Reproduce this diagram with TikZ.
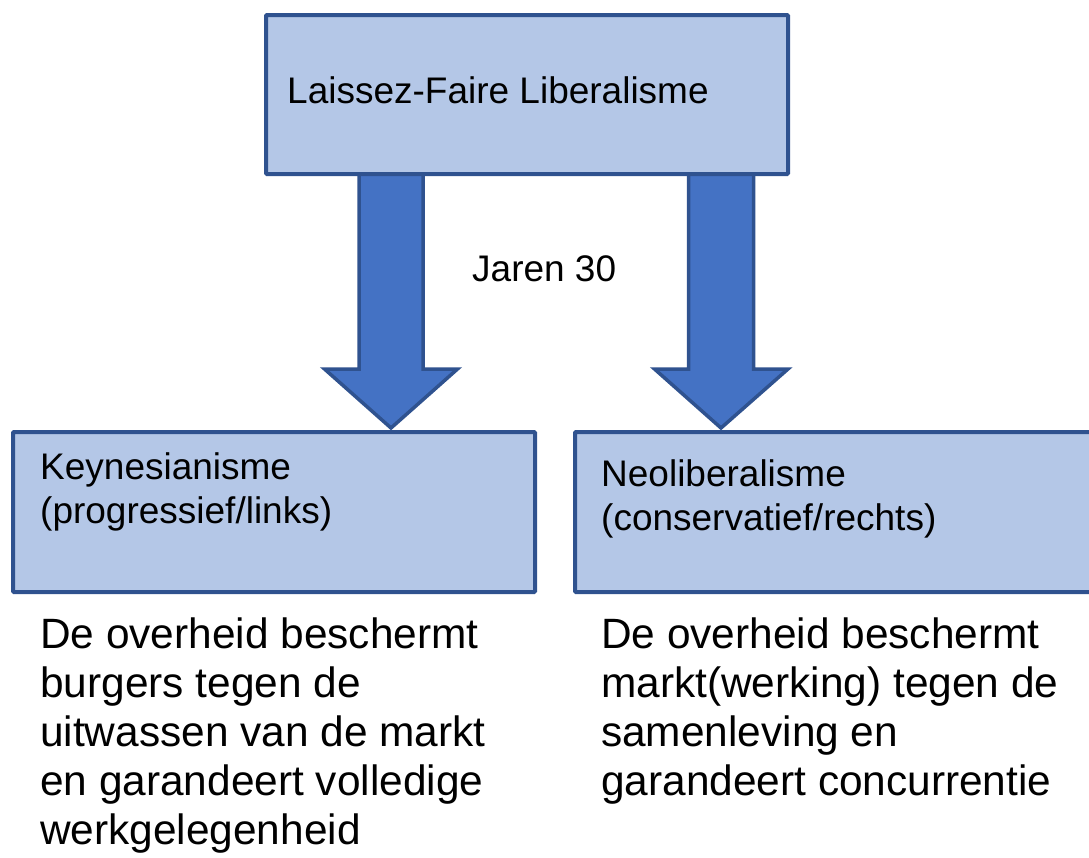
\documentclass[tikz,border=0pt]{standalone}
\usepackage{fontspec}
\setmainfont{Liberation Sans}
\usetikzlibrary{calc}
\definecolor{bord}{HTML}{2F528F}
\definecolor{boxfill}{HTML}{B4C7E7}
\definecolor{arrfill}{HTML}{4472C4}
\begin{document}
\begin{tikzpicture}[x=1pt,y=-1pt,
  box/.style={draw=bord,fill=boxfill,line width=4pt,rectangle,inner sep=0pt,outer sep=0pt,rounded corners=1pt},
  blockarrow/.style={draw=bord,fill=arrfill,line width=3.5pt,line join=miter},
  boxtext/.style={anchor=base west,inner sep=0pt,align=left,font=\fontsize{37}{44}\selectfont},
  bodytext/.style={anchor=base west,inner sep=0pt,align=left,font=\fontsize{42.4}{49}\selectfont}]
\useasboundingbox (0,0) rectangle (1089,857);
\clip (0,0) rectangle (1089,857);
% tips of the block arrows
\coordinate (ktip) at (391,428);
\coordinate (ntip) at (721,428);
% block arrows
\draw[blockarrow] (ktip) -- ++(-66.5,-59) -- ++(34.5,0) -- ++(0,-195) -- ++(64,0) -- ++(0,195) -- ++(34.5,0) -- cycle;
\draw[blockarrow] (ntip) -- ++(-66.5,-59) -- ++(34,0) -- ++(0,-195) -- ++(65,0) -- ++(0,195) -- ++(34.5,0) -- cycle;
% boxes
\node[box,minimum width=522pt,minimum height=159pt] (top) at (527,94.5) {};
\node[box,minimum width=522pt,minimum height=160pt] (kbox) at (274,512) {};
\node[box,minimum width=522pt,minimum height=160pt] (nbox) at (836,512) {};
% texts (base anchor = baseline of the last line)
\node[boxtext] (ttop) at (287,103) {Laissez-Faire Liberalisme};
\node[boxtext] (tjaren) at (472,281) {Jaren 30};
\node[boxtext] (tk) at (40,523) {Keynesianisme\\(progressief/links)};
\node[boxtext] (tn) at (601,530) {Neoliberalisme\\(conservatief/rechts)};
\node[bodytext] (bk) at (40,844) {De overheid beschermt\\burgers tegen de\\uitwassen van de markt\\en garandeert volledige\\werkgelegenheid};
\node[bodytext] (bn) at (601,795) {De overheid beschermt\\markt(werking) tegen de\\samenleving en\\garandeert concurrentie};
\end{tikzpicture}
\end{document}
